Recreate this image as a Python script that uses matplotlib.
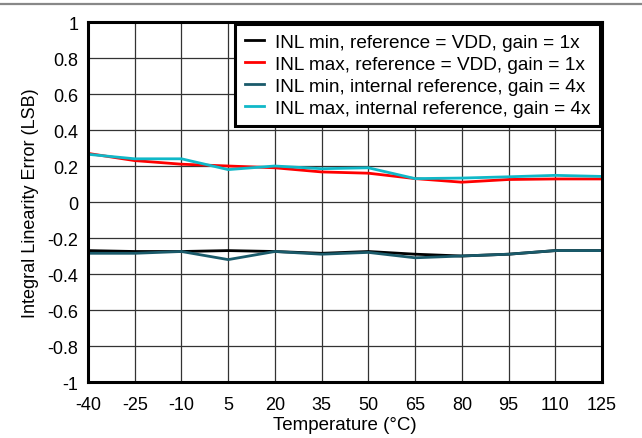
import matplotlib
matplotlib.use("Agg")
import matplotlib.pyplot as plt
from matplotlib.lines import Line2D

plt.rcParams['font.family'] = ['Liberation Sans', 'DejaVu Sans']

temps = [-40, -25, -10, 5, 20, 35, 50, 65, 80, 95, 110, 125]
inl_min_vdd = [-0.27, -0.275, -0.275, -0.27, -0.275, -0.285, -0.275, -0.29, -0.30, -0.29, -0.27, -0.27]
inl_max_vdd = [0.27, 0.23, 0.21, 0.20, 0.19, 0.167, 0.16, 0.13, 0.11, 0.125, 0.128, 0.128]
inl_min_int = [-0.285, -0.285, -0.275, -0.32, -0.275, -0.29, -0.28, -0.31, -0.30, -0.29, -0.27, -0.27]
inl_max_int = [0.265, 0.24, 0.24, 0.18, 0.20, 0.185, 0.19, 0.13, 0.133, 0.14, 0.148, 0.142]
yticks = [-1, -0.8, -0.6, -0.4, -0.2, 0, 0.2, 0.4, 0.6, 0.8, 1]
labels = ["INL min, reference = VDD, gain = 1x",
          "INL max, reference = VDD, gain = 1x",
          "INL min, internal reference, gain = 4x",
          "INL max, internal reference, gain = 4x"]
colors = ["#000000", "#FF0000", "#1A5A6A", "#10B8C8"]

fig = plt.figure(figsize=(6.42, 4.39), dpi=100)
ax = fig.add_axes([88/642, 1-383/439, (602-88)/642, (383-23)/439])

fig.add_artist(Line2D([0, 1], [1-5/439, 1-5/439], color="#888888", lw=1.6, transform=fig.transFigure))

series = [inl_min_vdd, inl_max_vdd, inl_min_int, inl_max_int]
for s, c, l in zip(series, colors, labels):
    ax.plot(temps, s, color=c, lw=2, label=l)

ax.set_xlim(-40, 125)
ax.set_ylim(-1, 1)
ax.set_xticks(temps)
ax.set_xticklabels([str(t) for t in temps])
ax.set_yticks(yticks)
ax.set_yticklabels(["%g" % v for v in yticks])
ax.grid(True, color="#333333", lw=0.9)
ax.set_axisbelow(True)
ax.tick_params(length=0, labelsize=13)
ax.tick_params(axis='y', pad=7)
ax.tick_params(axis='x', pad=10)
for sp in ax.spines.values():
    sp.set_linewidth(2.2)
ax.set_xlabel("Temperature (°C)", fontsize=13.5, labelpad=2)
ax.set_ylabel("Integral Linearity Error (LSB)", fontsize=13, labelpad=6)

leg = ax.legend(loc="upper right", bbox_to_anchor=(1.0, 1.0), borderaxespad=0.1,
                fontsize=13.7, handlelength=1.0, handletextpad=0.6, labelspacing=0.25,
                borderpad=0.5, fancybox=False, framealpha=1, edgecolor="black")
leg.get_frame().set_linewidth(2.2)

fig.savefig("out.png", dpi=100)
